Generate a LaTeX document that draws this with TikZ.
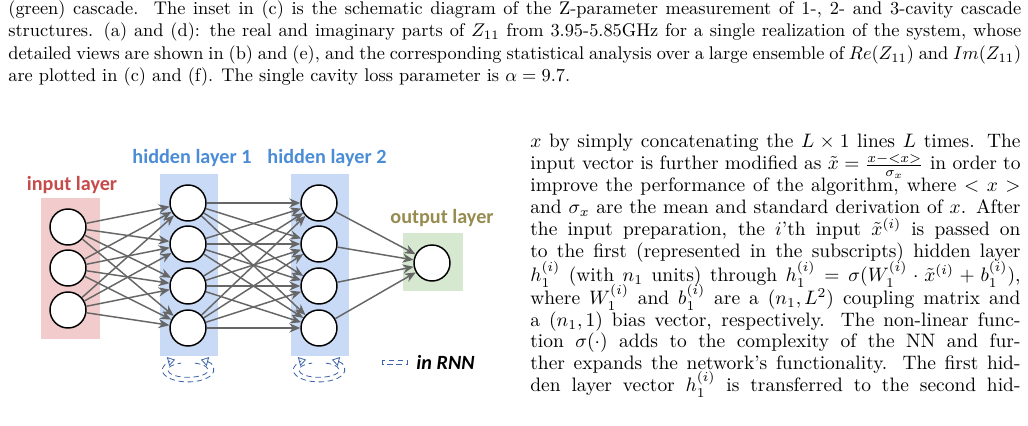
\documentclass[tikz,border=0pt]{standalone}
\usepackage{fontspec}
\newfontfamily\figfont{Carlito}
\usetikzlibrary{arrows.meta}
\definecolor{pinkbox}{RGB}{242,204,204}
\definecolor{bluebox}{RGB}{200,218,245}
\definecolor{greenbox}{RGB}{214,233,208}
\definecolor{redlab}{RGB}{200,75,75}
\definecolor{bluelab}{RGB}{75,140,215}
\definecolor{olivelab}{RGB}{150,140,80}
\definecolor{dashblue}{RGB}{60,100,170}
\begin{document}
\begin{tikzpicture}[x=0.545pt,y=-0.545pt,
  neuron/.style={circle,draw=black,thick,fill=white,minimum size=36*0.545pt,inner sep=0pt},
  conn/.style={draw=black!60,line width=0.8pt,-{Stealth[length=6pt,width=5pt]}},
  lab/.style={font=\figfont\bfseries\fontsize{11}{12}\selectfont},
  txt/.style={anchor=base west,inner sep=0pt},
  rtxt/.style={anchor=base west,inner sep=0pt,scale=1.06,transform shape},
  loop/.style={draw=dashblue,densely dashed,line width=0.45pt}]
\useasboundingbox (0,0) rectangle (1028,426);
% caption lines
\node[txt] (c1) at (8,15) {\makebox[552pt][s]{(green) cascade.\ \ The inset in (c) is the schematic diagram of the Z-parameter measurement of 1-, 2- and 3-cavity cascade}};
\node[txt] (c2) at (8,37) {\makebox[552pt][s]{structures. (a) and (d): the real and imaginary parts of $Z_{11}$ from 3.95-5.85GHz for a single realization of the system, whose}};
\node[txt] (c3) at (8,60) {\makebox[552pt][s]{detailed views are shown in (b) and (e), and the corresponding statistical analysis over a large ensemble of $Re(Z_{11})$ and $Im(Z_{11})$}};
\node[txt] (c4) at (8,82) {are plotted in (c) and (f). The single cavity loss parameter is $\alpha=9.7$.};
% right column
\node[rtxt] (r1) at (530,148) {\makebox[252pt][s]{$x$ by simply concatenating the $L\times 1$ lines $L$ times. The}};
\node[rtxt] (r2) at (530,170) {\makebox[252pt][s]{input vector is further modified as $\tilde{x}=\frac{x-<x>}{\sigma_x}$ in order to}};
\node[rtxt] (r3) at (530,192) {\makebox[252pt][s]{improve the performance of the algorithm, where $<x>$}};
\node[rtxt] (r4) at (530,214) {\makebox[252pt][s]{and $\sigma_x$ are the mean and standard derivation of $x$. After}};
\node[rtxt] (r5) at (530,236) {\makebox[252pt][s]{the input preparation, the $i$'th input $\tilde{x}^{(i)}$ is passed on}};
\node[rtxt] (r6) at (530,258) {\makebox[252pt][s]{to the first (represented in the subscripts) hidden layer}};
\node[rtxt] (r7) at (530,282) {\makebox[252pt][s]{$h_1^{(i)}$ (with $n_1$ units) through $h_1^{(i)}=\sigma(W_1^{(i)}\cdot\tilde{x}^{(i)}+b_1^{(i)})$,}};
\node[rtxt] (r8) at (530,305) {\makebox[252pt][s]{where $W_1^{(i)}$ and $b_1^{(i)}$ are a $(n_1,L^2)$ coupling matrix and}};
\node[rtxt] (r9) at (530,327) {\makebox[252pt][s]{a $(n_1,1)$ bias vector, respectively. The non-linear func-}};
\node[rtxt] (r10) at (530,348) {\makebox[252pt][s]{tion $\sigma(\cdot)$ adds to the complexity of the NN and fur-}};
\node[rtxt] (r11) at (530,370) {\makebox[252pt][s]{ther expands the network's functionality. The first hid-}};
\node[rtxt] (r12) at (530,392) {\makebox[252pt][s]{den layer vector $h_1^{(i)}$ is transferred to the second hid-}};
% boxes
\fill[pinkbox] (41,198) rectangle (100,339);
\fill[bluebox] (160,174) rectangle (218,356);
\fill[bluebox] (291,174) rectangle (349,356);
\fill[greenbox] (403,233) rectangle (463,291);
% labels
\node[lab,text=redlab] (li) at (72,185) {input layer};
\node[lab,text=bluelab] (lh1) at (192,158) {hidden layer 1};
\node[lab,text=bluelab] (lh2) at (327,158) {hidden layer 2};
\node[lab,text=olivelab] (lo) at (442,218) {output layer};
% neurons
\foreach \i/\y in {1/227,2/268,3/310} \node[neuron] (i\i) at (68,\y) {};
\foreach \i/\y in {1/203,2/244,3/286,4/328} {
  \node[neuron] (a\i) at (188,\y) {};
  \node[neuron] (b\i) at (319,\y) {};
}
\node[neuron] (o) at (432,263) {};
% connections
\foreach \s in {1,2,3} \foreach \t in {1,2,3,4} \draw[conn] (i\s) -- (a\t);
\foreach \s in {1,2,3,4} \foreach \t in {1,2,3,4} \draw[conn] (a\s) -- (b\t);
\foreach \s in {1,2,3,4} \draw[conn] (b\s) -- (o);
% recurrent loops
\foreach \c/\n in {188/ra,319/rb} {
  \coordinate (\n) at (\c,370);
  \draw[loop,{Triangle[open,length=4pt,width=5pt]}-{Triangle[open,length=4pt,width=5pt]}] ([shift={(60:14pt and 6.5pt)}]\n) arc[start angle=60,end angle=-240,x radius=14pt,y radius=6.5pt];
  \draw[loop] ([shift={(70:11pt and 4pt)}]\n) arc[start angle=70,end angle=-250,x radius=11pt,y radius=4pt];
}
\draw[loop] (382,360) rectangle (407,364);
\node[font=\figfont\bfseries\itshape\fontsize{11}{12}\selectfont,anchor=west] (rnn) at (410,362) {in RNN};
\end{tikzpicture}
\end{document}
